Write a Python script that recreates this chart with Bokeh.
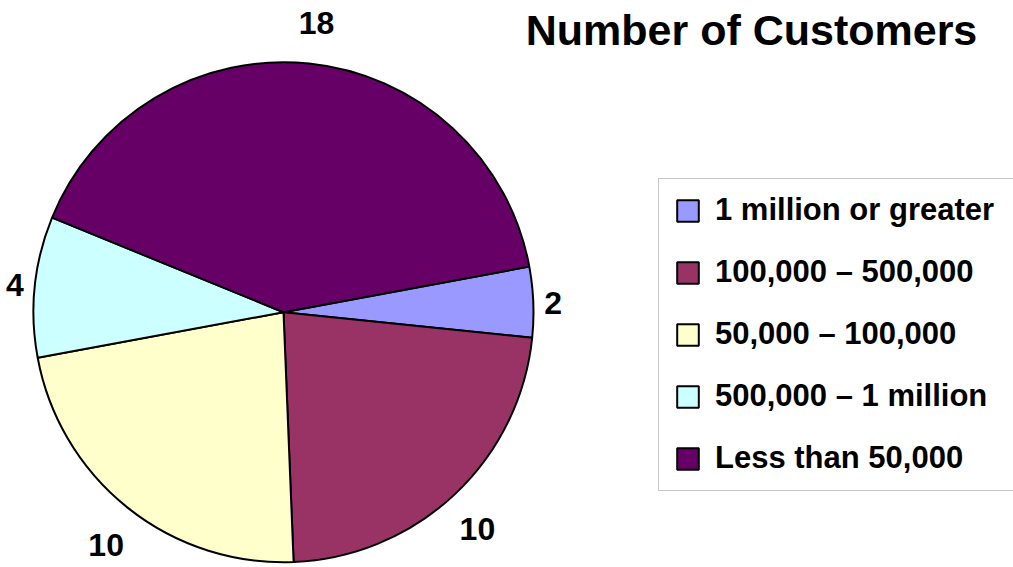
import numpy as np
from bokeh.plotting import figure
from bokeh.models import Range1d, ColumnDataSource, Legend, LegendItem, Label, BoxAnnotation
from bokeh.core.properties import value
from bokeh.embed import file_html
from bokeh.resources import INLINE

# ---- data ----
categories = ["1 million or greater", "100,000 \u2013 500,000", "50,000 \u2013 100,000",
              "500,000 \u2013 1 million", "Less than 50,000"]
counts = [2, 10, 10, 4, 18]
colors = ["#9999FF", "#993366", "#FFFFCC", "#CCFFFF", "#660066"]
title_text = "Number of Customers"

# ---- layout ----
W, H = 1013, 567
cx, cy = 283.0, H - 311.7
rx, ry = 246.0, 253.5
R = 250
start_deg = 10.5
FONT = "Liberation Sans"

vals = np.array(counts, dtype=float)
ang = vals / vals.sum() * 2 * np.pi
start0 = np.deg2rad(start_deg)
cum = np.cumsum(ang)
starts = start0 - np.concatenate([[0.0], cum[:-1]])
ends = start0 - cum
mid = (starts + ends) / 2.0

ux, uy = np.cos(mid), np.sin(mid)
lbl = [str(c) for c in counts]
tw = np.array([0.556 * 32 * len(s) for s in lbl])
lx = cx + (rx + 12) * ux + np.sign(ux) * np.sqrt(np.abs(ux)) * (tw / 2 + 3)
ly = cy + (ry + 14) * uy + uy * 26 - 3

src = ColumnDataSource(dict(cat=categories, start=starts, end=ends, color=colors,
                            x=[cx] * len(counts), y=[cy] * len(counts)))
lsrc = ColumnDataSource(dict(x=lx, y=ly, text=lbl))

p = figure(width=W, height=H, x_range=Range1d(0, W), y_range=Range1d(0, H),
           output_backend="svg", toolbar_location=None, min_border=0,
           x_axis_type=None, y_axis_type=None)
p.grid.visible = False
p.outline_line_color = None
p.background_fill_color = "white"
p.border_fill_color = "white"

r = p.wedge(x="x", y="y", radius=R, start_angle="start", end_angle="end",
            direction="clock", fill_color="color", line_color="black",
            line_width=2, source=src)

p.text(x="x", y="y", text="text", source=lsrc, text_font=value(FONT),
       text_font_style="bold", text_font_size="32px", text_align="center",
       text_baseline="middle", text_color="black")

p.add_layout(Label(x=751, y=H - 29, text=title_text, text_align="center",
                   text_baseline="middle", text_font=FONT, text_font_size="43px",
                   text_font_style="bold", text_color="black"))

# legend frame (extends past the right edge like the original)
p.add_layout(BoxAnnotation(left=658, right=1030, top=H - 178, bottom=H - 490,
                           fill_color="white", fill_alpha=1.0,
                           line_color="#404040", line_width=1))

items = [LegendItem(label=c, renderers=[r], index=i) for i, c in enumerate(categories)]
legend = Legend(items=items, location=(658, H - 492), padding=16, spacing=26,
                glyph_width=27, glyph_height=27, label_standoff=14,
                label_text_font=FONT, label_text_font_size="31px",
                label_text_font_style="bold", label_text_color="black",
                border_line_alpha=0.0, background_fill_alpha=0.0, margin=0)
p.add_layout(legend)

open("out.html", "w").write(file_html(p, INLINE))
